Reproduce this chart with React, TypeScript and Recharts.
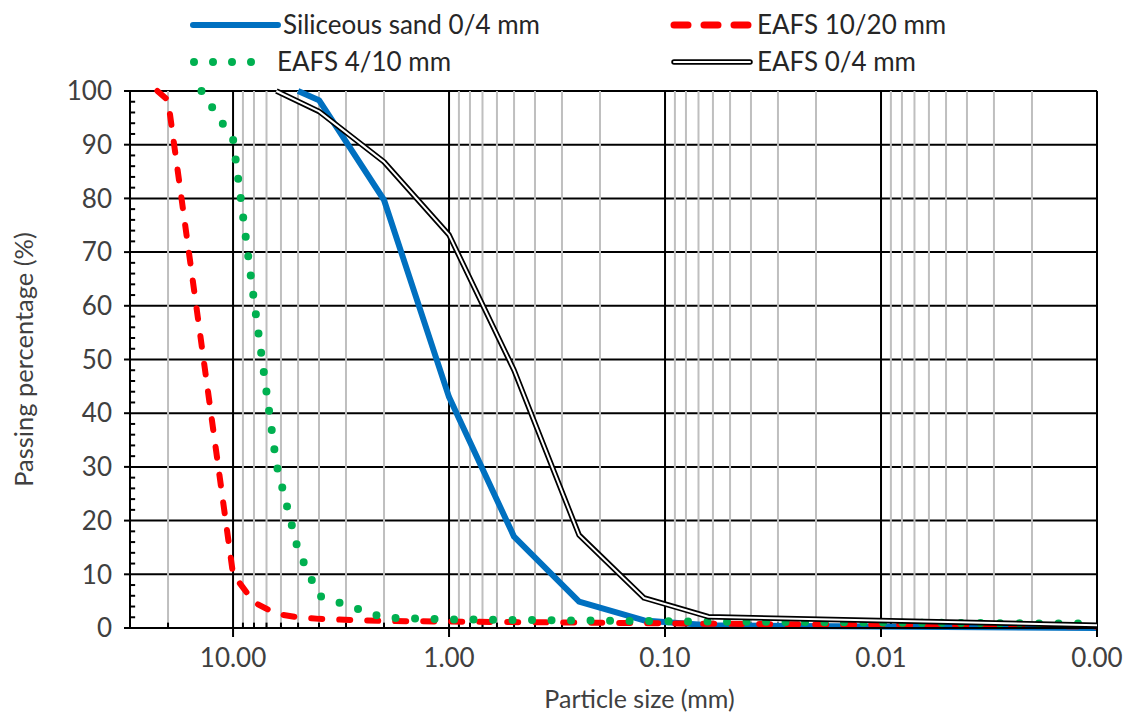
import React from 'react';
import { LineChart, Line, XAxis, YAxis, CartesianGrid, ReferenceLine } from 'recharts';

const FONT = 'Lato, "Open Sans", sans-serif';
const TEXT = '#404040';

// Sieve sizes (mm) and passing percentages (%)
const sandSizes = [5, 4, 2, 1, 0.5, 0.25, 0.125, 0.063, 0.001];
const sandPassing = [100, 98.3, 79.7, 43, 17, 4.9, 1.4, 0.5, 0];

const eafs1020Sizes = [22.4, 20, 10, 8, 6.3, 5, 4, 2, 1, 0.5, 0.25, 0.125, 0.063, 0.001];
const eafs1020Passing = [100, 98.3, 10, 4.8, 2.6, 2.0, 1.7, 1.3, 1.2, 1.1, 1.0, 0.9, 0.8, 0.3];

const eafs410Sizes = [14, 10, 8, 6.3, 5, 4, 2, 1, 0.5, 0.25, 0.125, 0.063, 0.001];
const eafs410Passing = [100, 91, 61, 30.5, 14.5, 6, 1.9, 1.6, 1.5, 1.4, 1.3, 1.2, 0.8];

const eafs04Sizes = [6.3, 4, 2, 1, 0.5, 0.25, 0.125, 0.063, 0.001];
const eafs04Passing = [100, 96.2, 86.8, 73.2, 48, 17.3, 5.6, 2.1, 0.5];

const seriesNames = ['Siliceous sand 0/4 mm', 'EAFS 10/20 mm', 'EAFS 4/10 mm', 'EAFS 0/4 mm'];

const xTicks = [10, 1, 0.1, 0.01, 0.001];
const yTicks = [0, 10, 20, 30, 40, 50, 60, 70, 80, 90, 100];
const xMinor = [
  20,
  9, 8, 7, 6, 5, 4, 3, 2,
  0.9, 0.8, 0.7, 0.6, 0.5, 0.4, 0.3, 0.2,
  0.09, 0.08, 0.07, 0.06, 0.05, 0.04, 0.03, 0.02,
  0.009, 0.008, 0.007, 0.006, 0.005, 0.004, 0.003, 0.002,
];
const yMinor = [
  2, 4, 6, 8, 12, 14, 16, 18, 22, 24, 26, 28, 32, 34, 36, 38, 42, 44, 46, 48,
  52, 54, 56, 58, 62, 64, 66, 68, 72, 74, 76, 78, 82, 84, 86, 88, 92, 94, 96, 98,
];
const xDomain: [number, number] = [0.001, 30];

const toRows = (sizes: number[], vals: number[]) => sizes.map((d, i) => ({ d, p: vals[i] }));
const sandData = toRows(sandSizes, sandPassing);
const eafs1020Data = toRows(eafs1020Sizes, eafs1020Passing);
const eafs410Data = toRows(eafs410Sizes, eafs410Passing);
const eafs04Data = toRows(eafs04Sizes, eafs04Passing);

const Legend = () => (
  <svg width={1129} height={85} style={{ position: 'absolute', left: 0, top: 0 }}>
    <g fontFamily={FONT} fontSize={26} fill="#262626">
      <line x1={193} y1={25} x2={278} y2={25} stroke="#0070C0" strokeWidth={6} strokeLinecap="round" />
      <text x={283} y={25} dy="0.36em">{seriesNames[0]}</text>
      <line x1={674} y1={25} x2={750} y2={25} stroke="#FF0000" strokeWidth={7} strokeLinecap="round" strokeDasharray="14 16" />
      <text x={757} y={25} dy="0.36em">{seriesNames[1]}</text>
      <line x1={194} y1={62} x2={255} y2={62} stroke="#00B050" strokeWidth={8} strokeLinecap="round" strokeDasharray="0 19" />
      <text x={277} y={62} dy="0.36em">{seriesNames[2]}</text>
      <line x1={674} y1={62} x2={750} y2={62} stroke="#000" strokeWidth={5.5} strokeLinecap="round" />
      <line x1={674} y1={62} x2={750} y2={62} stroke="#fff" strokeWidth={2} strokeLinecap="round" />
      <text x={757} y={62} dy="0.36em">{seriesNames[3]}</text>
    </g>
  </svg>
);

export default function App() {
  const tickStyle = { fill: TEXT, fontSize: 26, fontFamily: FONT };
  return (
    <div style={{ position: 'absolute', left: 0, top: 0, width: 1129, height: 715, background: '#fff' }}>
      <LineChart width={1129} height={715} margin={{ top: 91, right: 32, bottom: 0, left: 0 }}>
        <CartesianGrid horizontal vertical={false} stroke="#000" strokeWidth={2} />
        <XAxis
          dataKey="d"
          type="number"
          scale="log"
          domain={xDomain}
          allowDataOverflow
          reversed
          ticks={xTicks}
          tickFormatter={(v: number) => v.toFixed(2)}
          tick={tickStyle}
          tickSize={9}
          tickMargin={12}
          height={87}
          axisLine={{ stroke: '#000', strokeWidth: 2 }}
          tickLine={{ stroke: '#000', strokeWidth: 2 }}
          interval={0}
          label={{
            value: 'Particle size (mm)',
            position: 'insideBottom',
            offset: 7,
            dx: 26,
            fill: TEXT,
            fontSize: 25,
            fontFamily: FONT,
          }}
        />
        <YAxis
          type="number"
          domain={[0, 100]}
          ticks={yTicks}
          interval={0}
          width={130}
          tick={tickStyle}
          tickSize={6}
          tickMargin={12}
          axisLine={{ stroke: '#000', strokeWidth: 2 }}
          tickLine={{ stroke: '#000', strokeWidth: 2 }}
          label={{
            value: 'Passing percentage (%)',
            angle: -90,
            position: 'insideLeft',
            offset: 24,
            fill: TEXT,
            fontSize: 25.5,
            fontFamily: FONT,
            style: { textAnchor: 'middle' },
          }}
        />
        {xMinor.map((v) => (
          <ReferenceLine key={'g' + v} x={v} stroke="#BFBFBF" strokeWidth={2} />
        ))}
        {xTicks.map((v) => (
          <ReferenceLine key={'M' + v} x={v} stroke="#000" strokeWidth={2} />
        ))}
        {xMinor.map((v) => (
          <ReferenceLine
            key={'t' + v}
            segment={[{ x: v, y: 0 }, { x: v, y: 1 }]}
            stroke="#000"
            strokeWidth={2}
            ifOverflow="visible"
          />
        ))}
        {yMinor.map((v) => (
          <ReferenceLine
            key={'y' + v}
            segment={[{ x: 30, y: v }, { x: 28.4, y: v }]}
            stroke="#000"
            strokeWidth={2}
            ifOverflow="visible"
          />
        ))}
        <Line
          data={sandData}
          dataKey="p"
          name={seriesNames[0]}
          type="linear"
          stroke="#0070C0"
          strokeWidth={6}
          strokeLinejoin="round"
          dot={false}
          activeDot={false}
          isAnimationActive={false}
        />
        <Line
          data={eafs1020Data}
          dataKey="p"
          name={seriesNames[1]}
          type="linear"
          stroke="#FF0000"
          strokeWidth={6}
          strokeLinecap="round"
          strokeLinejoin="round"
          strokeDasharray="11 17"
          dot={false}
          activeDot={false}
          isAnimationActive={false}
        />
        <Line
          data={eafs410Data}
          dataKey="p"
          name={seriesNames[2]}
          type="linear"
          stroke="#00B050"
          strokeWidth={8}
          strokeLinecap="round"
          strokeLinejoin="round"
          strokeDasharray="0 19.5"
          dot={false}
          activeDot={false}
          isAnimationActive={false}
        />
        <Line
          data={eafs04Data}
          dataKey="p"
          name={seriesNames[3]}
          type="linear"
          stroke="#000"
          strokeWidth={5.5}
          strokeLinejoin="round"
          dot={false}
          activeDot={false}
          isAnimationActive={false}
        />
        <Line
          data={eafs04Data}
          dataKey="p"
          name={seriesNames[3] + ' core'}
          type="linear"
          stroke="#fff"
          strokeWidth={2}
          strokeLinejoin="round"
          dot={false}
          activeDot={false}
          isAnimationActive={false}
        />
      </LineChart>
      <Legend />
    </div>
  );
}
